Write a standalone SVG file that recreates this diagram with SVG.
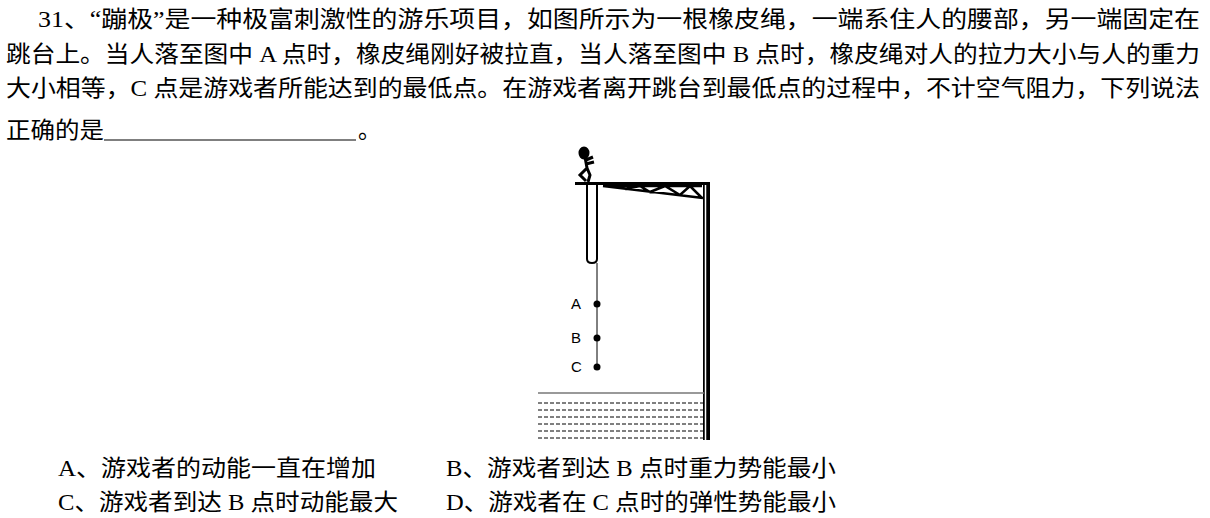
<svg xmlns="http://www.w3.org/2000/svg" width="1210" height="518" viewBox="0 0 1210 518">
<style>
.t{font-family:"Liberation Serif","Noto Sans CJK SC",serif;font-size:23px;fill:#000}
.l{font-family:"Liberation Sans",sans-serif;font-size:15px;fill:#000}
.d{stroke:#000;stroke-width:1;stroke-dasharray:4,2}
</style>
<rect width="1210" height="518" fill="#fff"/>
<g id="text">
<text class="t" x="38" y="27" textLength="1162" lengthAdjust="spacingAndGlyphs">31、“蹦极”是一种极富刺激性的游乐项目，如图所示为一根橡皮绳，一端系住人的腰部，另一端固定在</text>
<text class="t" x="6" y="62" textLength="1194" lengthAdjust="spacingAndGlyphs">跳台上。当人落至图中 A 点时，橡皮绳刚好被拉直，当人落至图中 B 点时，橡皮绳对人的拉力大小与人的重力</text>
<text class="t" x="6" y="96" textLength="1194" lengthAdjust="spacingAndGlyphs">大小相等，C 点是游戏者所能达到的最低点。在游戏者离开跳台到最低点的过程中，不计空气阻力，下列说法</text>
<text class="t" x="6" y="138" textLength="98" lengthAdjust="spacingAndGlyphs">正确的是</text>
<line x1="104" y1="140" x2="356" y2="140" stroke="#000" stroke-width="1.2"/>
<text class="t" x="358" y="138">。</text>
<text class="t" x="58" y="476" textLength="318" lengthAdjust="spacingAndGlyphs">A、游戏者的动能一直在增加</text>
<text class="t" x="446" y="476" textLength="390" lengthAdjust="spacingAndGlyphs">B、游戏者到达 B 点时重力势能最小</text>
<text class="t" x="58" y="510" textLength="340" lengthAdjust="spacingAndGlyphs">C、游戏者到达 B 点时动能最大</text>
<text class="t" x="446" y="510" textLength="390" lengthAdjust="spacingAndGlyphs">D、游戏者在 C 点时的弹性势能最小</text>
</g>
<g id="tower" fill="none" stroke="#000">
<line x1="575" y1="183.5" x2="710" y2="183.5" stroke-width="3"/>
<rect x="703" y="183" width="7" height="257" fill="#000" stroke="none"/>
<line x1="705.5" y1="185" x2="705.5" y2="440" stroke="#fff" stroke-width="1.5"/>
<path d="M603 186 L703 198 M603 186 L702 186 M625 189 L640 186 L650 192 L665 186 L680 195 L690 186 L702 198" stroke-width="2.5"/>
</g>
<g id="person" fill="none" stroke="#000" stroke-width="3">
<ellipse cx="584" cy="153" rx="4" ry="5" fill="#000"/>
<path d="M585 157 L587 168 L580 175 L586 181 M586 160 L593 157 M586 164 L594 162 M587 168 L590 175 L588 182"/>
</g>
<g id="rope" fill="none" stroke="#000">
<path d="M587 184 L587 259 Q587 263 592 263 Q597 263 597 259 L597 184" stroke-width="2"/>
<line x1="597" y1="263" x2="597" y2="367" stroke-width="1"/>
</g>
<g id="points">
<circle cx="597" cy="304" r="3.5"/><circle cx="597" cy="338" r="3.5"/><circle cx="597" cy="367" r="3.5"/>
<text class="l" x="571" y="309">A</text><text class="l" x="571" y="343">B</text><text class="l" x="571" y="372">C</text>
</g>
<g id="water">
<line x1="538" y1="393" x2="704" y2="393" stroke="#777" stroke-width="1.5"/>
<line class="d" x1="538" y1="403" x2="703" y2="403"/>
<line class="d" x1="538" y1="410" x2="703" y2="410"/>
<line class="d" x1="538" y1="417" x2="703" y2="417"/>
<line class="d" x1="538" y1="424" x2="703" y2="424"/>
<line class="d" x1="538" y1="431" x2="703" y2="431"/>
<line class="d" x1="538" y1="438" x2="703" y2="438"/>
</g>
</svg>
